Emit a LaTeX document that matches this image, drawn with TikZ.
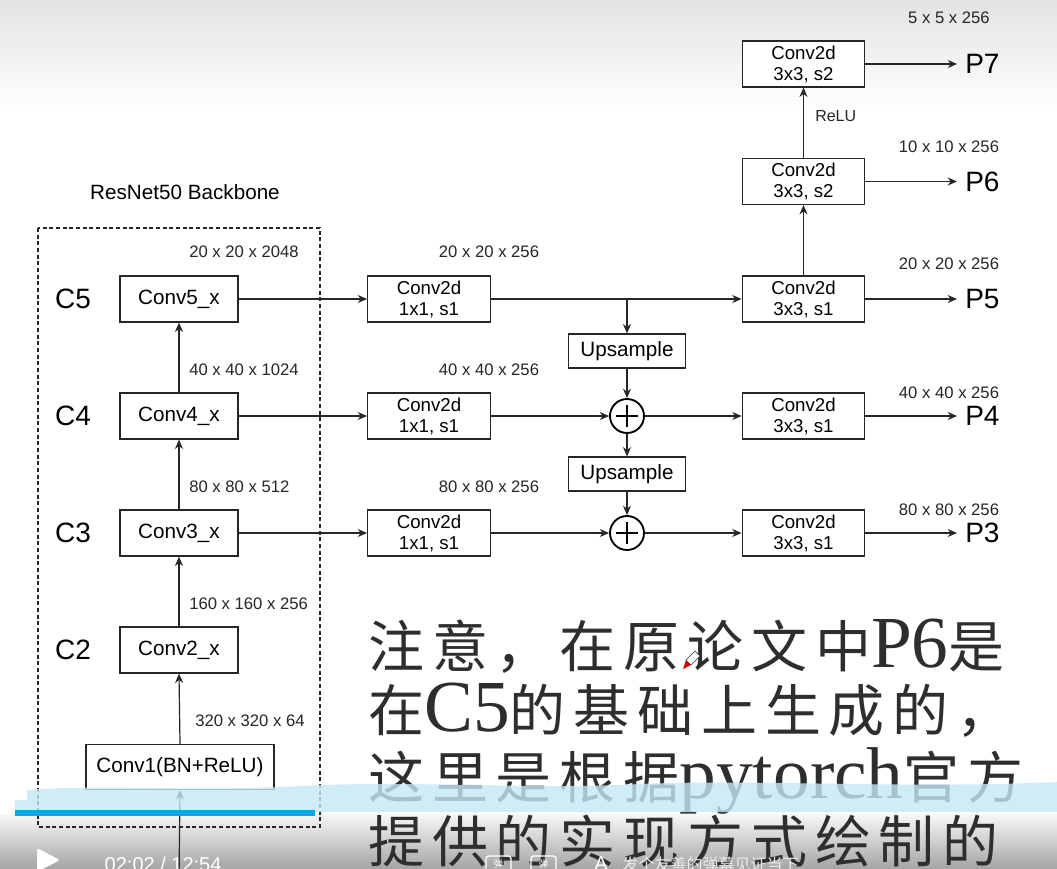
\documentclass[tikz,border=0pt]{standalone}
\usepackage{fontspec}
\setmainfont{Liberation Sans}
\newfontfamily\cjk{Noto Sans CJK SC}
\newfontfamily\cjkwide[LetterSpace=14]{Noto Sans CJK SC}
\newfontfamily\lser{Liberation Serif}
\newcommand\latf{\lser\fontsize{55}{60}\selectfont}
\definecolor{band}{RGB}{196,232,246}
\definecolor{bili}{RGB}{0,170,232}
\usetikzlibrary{arrows.meta,calc}
\begin{document}
\begin{tikzpicture}[x=0.75pt,y=-0.75pt,
  >={Stealth[length=7pt,width=6pt]},
  conn/.style={->,line width=0.9pt,draw=black!85},
  box/.style={draw=black!85,line width=0.9pt,fill=white,minimum height=34.5pt,inner sep=0pt},
  bb/.style={box,minimum width=88.5pt,font=\fontsize{15.5}{18}\selectfont},
  cv/.style={box,minimum width=92pt,align=center,font=\fontsize{14}{15.75}\selectfont},
  ups/.style={box,minimum width=87.75pt,minimum height=25.5pt,font=\fontsize{15.5}{18}\selectfont},
  dim/.style={font=\fontsize{12.5}{14}\selectfont,inner sep=0pt,text=black!85},
  big/.style={font=\fontsize{21}{24}\selectfont,inner sep=0pt},
  outl/.style={big,anchor=west,inner xsep=6pt},
  plus/.style={circle,draw=black,line width=1.4pt,minimum size=25.5pt,inner sep=0pt,fill=white,
    path picture={
      \draw[line width=1.4pt] ($(path picture bounding box.north)+(0,-4.5pt)$) -- ($(path picture bounding box.south)+(0,4.5pt)$);
      \draw[line width=1.4pt] ($(path picture bounding box.west)+(4.5pt,0)$) -- ($(path picture bounding box.east)+(-4.5pt,0)$);}},
  cjkline/.style={anchor=base west,inner sep=0pt,font=\cjkwide\fontsize{42}{46}\selectfont,text=black!82}
]
\useasboundingbox (0,0) rectangle (1057,868);
\clip (0,0) rectangle (1057,868);
\fill[white] (0,0) rectangle (1057,868);
\shade[top color=black!11, bottom color=white] (0,0) rectangle (1057,110);
\shade[top color=black!3, bottom color=black!35] (0,814) rectangle (1057,868);

% backbone
\node[font=\fontsize{15.5}{18}\selectfont] (title) at (185,192) {ResNet50 Backbone};
\draw[line width=0.8pt,dash pattern=on 3pt off 2pt,draw=black!85] (38,228) rectangle (320,827);

\node[bb] (c5b) at (179,299) {Conv5\_x};
\node[bb] (c4b) at (179,416) {Conv4\_x};
\node[bb] (c3b) at (179,533) {Conv3\_x};
\node[bb] (c2b) at (179,650) {Conv2\_x};
\node[box,minimum width=141pt,minimum height=33.75pt,font=\fontsize{15.5}{18}\selectfont] (c1b) at (180,767) {Conv1(BN+ReLU)};
\coordinate (inb) at (179,880);

\node[big] (lc5) at (73,299) {C5};
\node[big] (lc4) at (73,416) {C4};
\node[big] (lc3) at (73,533) {C3};
\node[big] (lc2) at (73,650) {C2};

\node[dim,anchor=west] (d5) at (189,252) {20 x 20 x 2048};
\node[dim,anchor=west] (d4) at (189,370) {40 x 40 x 1024};
\node[dim,anchor=west] (d3) at (189,487) {80 x 80 x 512};
\node[dim,anchor=west] (d2) at (189,604) {160 x 160 x 256};
\node[dim,anchor=west] (d1) at (195,721) {320 x 320 x 64};

\draw[conn] (inb) -- (c1b.south);
\draw[conn] (c1b.north) -- (c2b.south);
\draw[conn] (c2b.north) -- (c3b.south);
\draw[conn] (c3b.north) -- (c4b.south);
\draw[conn] (c4b.north) -- (c5b.south);

% lateral
\node[cv] (l5) at (429,299) {Conv2d\\1x1, s1};
\node[cv] (l4) at (429,416) {Conv2d\\1x1, s1};
\node[cv] (l3) at (429,533) {Conv2d\\1x1, s1};
\node[dim] (ld5) at (489,252) {20 x 20 x 256};
\node[dim] (ld4) at (489,370) {40 x 40 x 256};
\node[dim] (ld3) at (489,487) {80 x 80 x 256};

\draw[conn] (c5b.east) -- (l5.west);
\draw[conn] (c4b.east) -- (l4.west);
\draw[conn] (c3b.east) -- (l3.west);

% top-down
\node[ups] (up1) at (627,351) {Upsample};
\node[ups] (up2) at (627,474) {Upsample};
\node[plus] (s4) at (627,416) {};
\node[plus] (s3) at (627,533) {};
\coordinate (br) at (627,299);

% right column
\node[cv] (r5) at (803.5,299) {Conv2d\\3x3, s1};
\node[cv] (r4) at (803.5,416) {Conv2d\\3x3, s1};
\node[cv] (r3) at (803.5,533) {Conv2d\\3x3, s1};
\node[cv] (r6) at (803.5,181.5) {Conv2d\\3x3, s2};
\node[cv] (r7) at (803.5,64) {Conv2d\\3x3, s2};

\draw[conn] (l5.east) -- (r5.west);
\draw[conn] (br) -- (up1.north);
\draw[conn] (up1.south) -- (s4.north);
\draw[conn] (l4.east) -- (s4.west);
\draw[conn] (s4.east) -- (r4.west);
\draw[conn] (s4.south) -- (up2.north);
\draw[conn] (up2.south) -- (s3.north);
\draw[conn] (l3.east) -- (s3.west);
\draw[conn] (s3.east) -- (r3.west);
\draw[conn] (r5.north) -- (r6.south);
\draw[conn] (r6.north) -- (r7.south);
\node[dim,anchor=west,font=\fontsize{12}{14}\selectfont] (relu) at (815,116) {ReLU};

% outputs
\node[outl] (p7) at (957,64) {P7};
\node[outl] (p6) at (957,181.5) {P6};
\node[outl] (p5) at (957,299) {P5};
\node[outl] (p4) at (957,416) {P4};
\node[outl] (p3) at (957,533) {P3};
\draw[conn] (r7.east) -- (p7.west);
\draw[conn] (r6.east) -- (p6.west);
\draw[conn] (r5.east) -- (p5.west);
\draw[conn] (r4.east) -- (p4.west);
\draw[conn] (r3.east) -- (p3.west);

\node[dim] (od7) at (949,18) {5 x 5 x 256};
\node[dim] (od6) at (949,147) {10 x 10 x 256};
\node[dim] (od5) at (949,264) {20 x 20 x 256};
\node[dim] (od4) at (949,393) {40 x 40 x 256};
\node[dim] (od3) at (949,510) {80 x 80 x 256};

% annotation text
\node[cjkline] (t1) at (368,667) {注意，在原论文中{\latf P6}是};
\node[cjkline] (t2) at (368,731) {在{\latf C5}的基础上生成的，};
\node[cjkline] (t3) at (368,798) {这里是根据{\latf pytorch}官方};
\node[cjkline] (t4) at (368,862) {提供的实现方式绘制的};

% cursor
\fill[red!85!black] (683,669) -- (686,660) -- (691,665) -- cycle;
\draw[black!80,line width=0.5pt,fill=white] (686,660) -- (695,651) -- (700,656) -- (691,665) -- cycle;

% video overlay
\fill[band,fill opacity=0.8] (15,812) -- (15,800) -- (27,800) -- (27,790)
  .. controls (100,784) and (200,792) .. (300,786)
  .. controls (420,780) and (520,790) .. (640,784)
  .. controls (760,779) and (900,789) .. (1057,782) -- (1057,812) -- cycle;
\fill[bili] (15,810) rectangle (315,816);
\fill[white,rounded corners=2pt] (37,848) -- (60,860) -- (37,872) -- cycle;
\node[white,font=\fontsize{15}{18}\selectfont,anchor=west] (time) at (100,864) {02:02 / 12:54};
\draw[white,line width=1pt,rounded corners=2pt] (486,856) rectangle (511,874);
\draw[white,line width=1pt,rounded corners=2pt] (531,856) rectangle (556,874);
\node[white,font=\cjk\fontsize{7}{8}\selectfont,inner sep=0pt] (i1) at (498.5,864) {弹};
\node[white,font=\cjk\fontsize{7}{8}\selectfont,inner sep=0pt] (i2) at (543.5,864) {弹};
\node[white,font=\fontsize{15}{18}\selectfont] (aa) at (601,864) {A};
\node[white!92!black,font=\cjk\fontsize{12}{14}\selectfont,anchor=west] (dm) at (618,864) {发个友善的弹幕见证当下};
\end{tikzpicture}
\end{document}
